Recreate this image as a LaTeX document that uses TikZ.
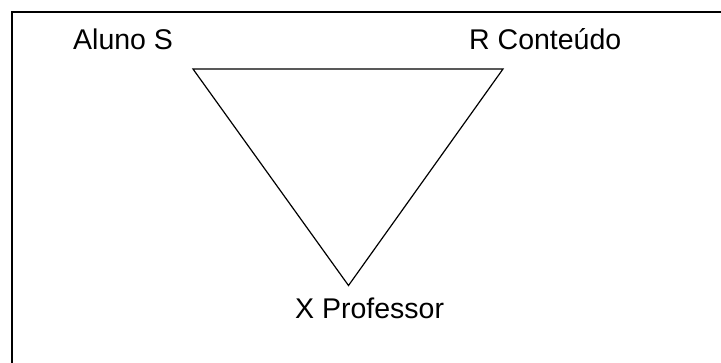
\documentclass[tikz,border=0pt]{standalone}
\usepackage{fontspec}
\setmainfont{Liberation Sans}
\begin{document}
\begin{tikzpicture}[x=1pt,y=-1pt,
  lbl/.style={anchor=base west,inner sep=0pt,font=\fontsize{28.5}{34}\selectfont},
  edge/.style={line width=1.2pt,line join=miter}]
\useasboundingbox (0,0) rectangle (721,363);
\fill[white] (0,0) rectangle (721,363);
\draw[line width=2pt] (12,364) -- (12,12) -- (722,12);
\coordinate (s) at (193,69);
\coordinate (r) at (503,69);
\coordinate (x) at (348.5,285.5);
\draw[edge] (s) -- (r) -- (x) -- cycle;
\node[lbl] (aluno) at (73,50) {Aluno S};
\node[lbl] (cont) at (469,50) {R Conteúdo};
\node[lbl] (prof) at (295,319) {X Professor};
\end{tikzpicture}
\end{document}
